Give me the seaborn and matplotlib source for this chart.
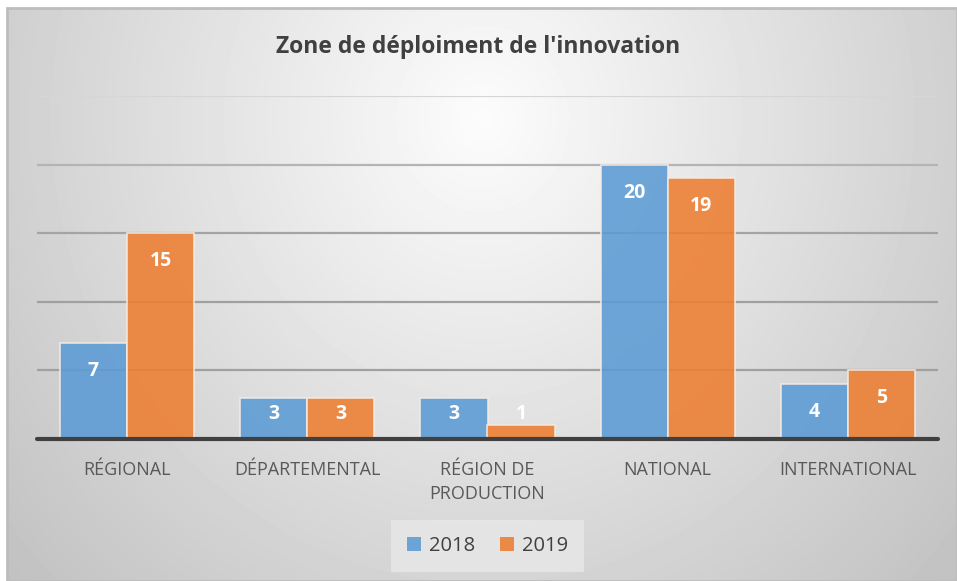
import numpy as np
import pandas as pd
import matplotlib.pyplot as plt
import seaborn as sns
from matplotlib.patches import Rectangle, Patch

# Data
# --------------
zones = ["RÉGIONAL", "DÉPARTEMENTAL", "RÉGION DE\nPRODUCTION", "NATIONAL", "INTERNATIONAL"]
val_2018 = [7, 3, 3, 20, 4]
val_2019 = [15, 3, 1, 19, 5]
years = ["2018", "2019"]
colors = ["#5B9BD5", "#ED7D31"]

df = pd.DataFrame({
    "zone": zones * 2,
    "n": val_2018 + val_2019,
    "year": [years[0]] * len(zones) + [years[1]] * len(zones),
})

# Set-up
# --------------
sns.set_theme(style="white")
plt.rcParams["font.family"] = ["Open Sans", "DejaVu Sans"]

fig = plt.figure(figsize=(9.57, 5.81), dpi=100)
fig.patch.set_facecolor("white")

# gradient background (excel-like radial fill)
bg = fig.add_axes([7 / 957, 0, 950 / 957, 573 / 581])
yy, xx = np.mgrid[0:573, 0:950]
d = np.sqrt(((xx - 475) / 520.0) ** 2 + ((yy - 110) / 560.0) ** 2)
shade = np.clip(252 - 48 * d, 185, 252) / 255.0
bg.imshow(shade, cmap="gray", vmin=0, vmax=1, aspect="auto", interpolation="bilinear")
bg.set_axis_off()
bg.add_patch(Rectangle((0, 0), 1, 1, transform=bg.transAxes, fill=False,
                       edgecolor="#bdbdbd", lw=2, clip_on=False))

ax = fig.add_axes([37 / 957, 142 / 581, 901 / 957, 343 / 581])
ax.patch.set_alpha(0)

# gridlines
grid_colors = ["#a0a0a0", "#a0a0a0", "#a4a4a4", "#b4b4b4", "#d6d6d6"]
for v, c in zip([5, 10, 15, 20, 25], grid_colors):
    ax.axhline(v, color=c, lw=1.6, zorder=0)

sns.barplot(data=df, x="zone", y="n", hue="year", palette=colors, width=0.745,
            saturation=1, alpha=0.88, edgecolor="#f6ece4", linewidth=1.2, ax=ax,
            zorder=2, legend=False)

ax.axhline(0, color="#404040", lw=3, zorder=3, clip_on=False)
ax.set_ylim(0, 25)
ax.set_xlim(-0.5, len(zones) - 0.5)
ax.set_yticks([])
ax.set_xlabel("")
ax.set_ylabel("")
for s in ax.spines.values():
    s.set_visible(False)
ax.tick_params(axis="x", length=0, pad=16, labelsize=13, labelcolor="#595959")
for lbl in ax.get_xticklabels():
    lbl.set_linespacing(1.4)

# data labels (inside end, kept above the baseline for short bars)
for cont in ax.containers:
    for bar in cont:
        h = bar.get_height()
        x = bar.get_x() + bar.get_width() / 2
        ax.text(x, max(h - 2.04, 1.8), f"{int(h)}", ha="center", va="center",
                color="white", fontsize=14, fontweight="bold", zorder=4)

# legend
handles = [Patch(facecolor=c, alpha=0.88, edgecolor="none") for c in colors]
leg = ax.legend(handles, years, loc="center", bbox_to_anchor=(0.5, (35 - 142) / 343),
                ncol=2, frameon=True, fontsize=14.5, handlelength=0.7, handleheight=0.7,
                handletextpad=0.4, columnspacing=1.2, borderpad=0.6)
leg.get_frame().set_facecolor("#e8e8e8")
leg.get_frame().set_edgecolor("none")
leg.get_frame().set_alpha(0.8)
leg.get_frame().set_boxstyle("square", pad=0.2)
for t in leg.get_texts():
    t.set_color("#404040")

fig.text(0.5, 1 - 47 / 581, "Zone de déploiment de l'innovation", ha="center", va="center",
         fontsize=16.5, fontweight="bold", color="#404040")

# Rendering
# --------------
fig.savefig("out.png", dpi=100)
